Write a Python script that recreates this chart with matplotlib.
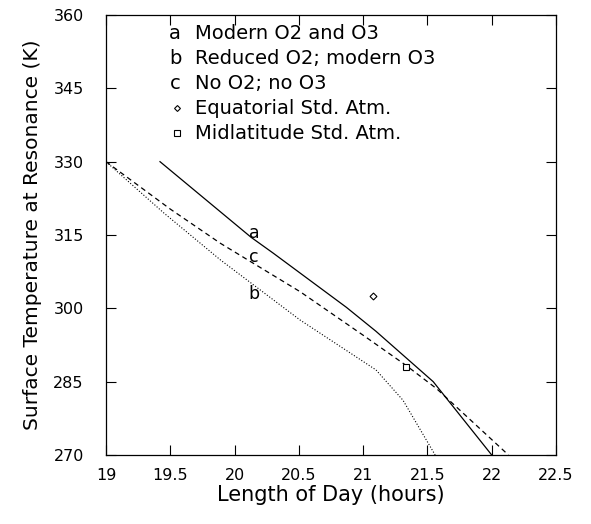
import numpy as np
import matplotlib
matplotlib.use('Agg')
import matplotlib.pyplot as plt

# curve a: modern O2 and O3
a_day = [19.42, 20.13, 20.30, 20.87, 21.10, 21.545, 22.0]
a_temp = [330.0, 314.5, 311.3, 300.2, 295.3, 285.0, 270.0]
# curve b: reduced O2, modern O3
b_day = [19.0, 19.45, 19.89, 20.51, 21.1, 21.31, 21.56]
b_temp = [330.0, 319.5, 309.9, 297.6, 287.4, 281.2, 270.0]
# curve c: no O2, no O3
c_day = [19.0, 19.5, 19.89, 20.51, 21.0, 21.33, 21.57, 22.13]
c_temp = [330.0, 320.3, 313.3, 303.4, 294.5, 288.4, 283.6, 270.0]

# standard atmospheres
eq_day, eq_temp = 21.08, 302.6
mid_day, mid_temp = 21.33, 288.0

curve_labels = ['a', 'c', 'b']
curve_label_pos = [(20.15, 315.5), (20.15, 310.5), (20.15, 303.0)]

legend_keys = ['a', 'b', 'c']
legend_texts = ['Modern O2 and O3', 'Reduced O2; modern O3', 'No O2; no O3',
                'Equatorial Std. Atm.', 'Midlatitude Std. Atm.']

xticks = np.arange(19, 22.51, 0.5)
yticks = np.arange(270, 361, 15)

fig = plt.figure(figsize=(5.91, 5.24), dpi=100)
ax = fig.add_axes([106/591, 69/524, 450/591, 440/524])

ax.plot(a_day, a_temp, '-', color='k', lw=0.9)
ax.plot(b_day, b_temp, ':', color='k', lw=0.8)
ax.plot(c_day, c_temp, '--', color='k', lw=0.9, dashes=(4, 3))
ax.plot(eq_day, eq_temp, 'D', ms=3.5, mfc='white', mec='k', mew=0.8)
ax.plot(mid_day, mid_temp, 's', ms=4.5, mfc='white', mec='k', mew=0.8)

for lab, (x, y) in zip(curve_labels, curve_label_pos):
    ax.text(x, y, lab, fontsize=12.5, ha='center', va='center')

# key in upper left
row_y = [33, 58, 83, 108, 133]
for i, txt in enumerate(legend_texts):
    yy = 1 - (row_y[i] - 15) / 440
    if i < 3:
        ax.text((175 - 106) / 450, yy, legend_keys[i], transform=ax.transAxes,
                fontsize=14, ha='center', va='center')
    ax.text((195 - 106) / 450, yy, txt, transform=ax.transAxes,
            fontsize=14, ha='left', va='center')
ax.plot((177 - 106) / 450, 1 - (108 - 15) / 440, 'D', ms=3, mfc='white',
        mec='k', mew=0.8, transform=ax.transAxes)
ax.plot((177 - 106) / 450, 1 - (133 - 15) / 440, 's', ms=4, mfc='white',
        mec='k', mew=0.8, transform=ax.transAxes)

ax.set_xlim(19, 22.5)
ax.set_ylim(270, 360)
ax.set_xticks(xticks)
ax.set_xticklabels([f'{v:g}' for v in xticks])
ax.set_yticks(yticks)
ax.tick_params(direction='in', length=7, width=0.8, top=True, right=True,
               labelsize=11.5)
ax.tick_params(axis='x', pad=9)
ax.tick_params(axis='y', pad=16)
for s in ax.spines.values():
    s.set_linewidth(0.9)

ax.set_xlabel('Length of Day (hours)', fontsize=15)
ax.set_ylabel('Surface Temperature at Resonance (K)', fontsize=14.5)
ax.xaxis.set_label_coords(0.5, -0.068)
ax.yaxis.set_label_coords(-0.142, 0.5)

fig.savefig('out.png', dpi=100)
